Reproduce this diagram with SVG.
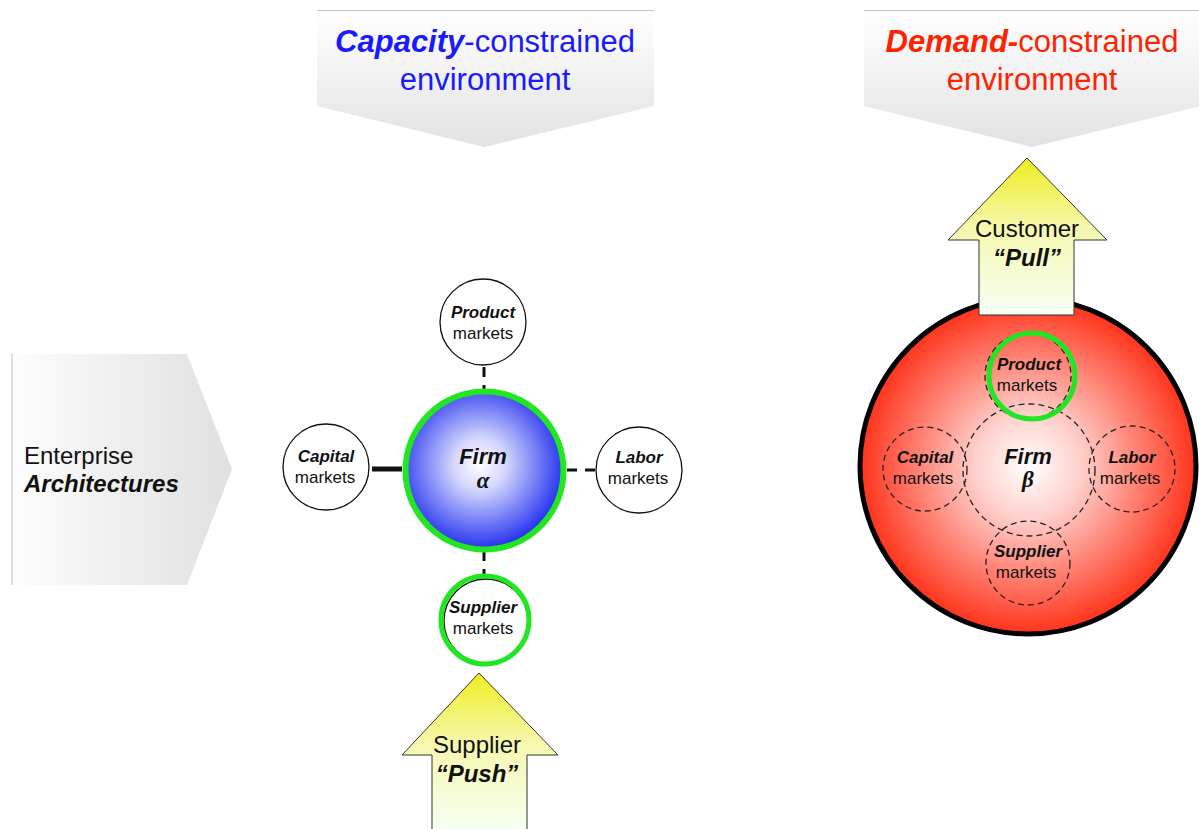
<svg xmlns="http://www.w3.org/2000/svg" width="1199" height="829" viewBox="0 0 1199 829">
  <defs>
    <linearGradient id="bannerFill" x1="0" y1="0" x2="0" y2="1">
      <stop offset="0" stop-color="#ffffff"/>
      <stop offset="1" stop-color="#e2e2e2"/>
    </linearGradient>
    <linearGradient id="sideFill" x1="0" y1="0" x2="1" y2="0">
      <stop offset="0" stop-color="#fdfdfd"/>
      <stop offset="1" stop-color="#e0e0e0"/>
    </linearGradient>
    <linearGradient id="arrowFill" x1="0" y1="0" x2="0" y2="1">
      <stop offset="0" stop-color="#eeee1e"/>
      <stop offset="0.45" stop-color="#f6f8b0"/>
      <stop offset="1" stop-color="#f4fff4"/>
    </linearGradient>
    <radialGradient id="blueFill" cx="0.47" cy="0.46" r="0.55">
      <stop offset="0" stop-color="#ffffff"/>
      <stop offset="0.3" stop-color="#d4d7fc"/>
      <stop offset="1" stop-color="#1f2cf0"/>
    </radialGradient>
    <radialGradient id="redFill" cx="0.5" cy="0.5" r="0.52">
      <stop offset="0" stop-color="#ffffff"/>
      <stop offset="0.3" stop-color="#ffd0cc"/>
      <stop offset="1" stop-color="#ff2a10"/>
    </radialGradient>
  </defs>
  <style>
    text { font-family: "Liberation Sans", Arial, sans-serif; fill: #111; text-anchor: middle; }
    .bi { font-weight: bold; font-style: italic; }
    .mk { font-size: 17px; }
    .banner { font-size: 31px; }
    .blue { fill: #1a1aff; }
    .red { fill: #ff2200; }
    .arrowtxt { font-size: 24px; }
    .greek { font-family: "Liberation Serif", "Times New Roman", serif; font-style: italic; font-weight: bold; font-size: 23px; }
    .market { fill: #ffffff; stroke: #111; stroke-width: 1.3; }
    .dashed { fill: none; stroke: #222; stroke-width: 1.3; stroke-dasharray: 6 4; }
    .ring { fill: none; stroke: #22e622; stroke-width: 5; }
    .link { stroke: #111; stroke-width: 3; stroke-dasharray: 10 8; fill: none; }
    .arrow { fill: url(#arrowFill); stroke: #333; stroke-width: 1; }
  </style>

  <rect width="1199" height="829" fill="#ffffff"/>

  <!-- header banners -->
  <g id="capacity-banner">
    <path d="M317,10 H654 V106 L484,147 L317,106 Z" fill="url(#bannerFill)"/>
    <line x1="317" y1="10.5" x2="654" y2="10.5" stroke="#c4c4c4" stroke-width="1"/>
    <text class="banner blue" x="485" y="52"><tspan class="bi">Capacity</tspan>-constrained</text>
    <text class="banner blue" x="485" y="90">environment</text>
  </g>

  <g id="demand-banner">
    <path d="M864,10 H1201 V106 L1032,147 L864,106 Z" fill="url(#bannerFill)"/>
    <line x1="864" y1="10.5" x2="1199" y2="10.5" stroke="#c4c4c4" stroke-width="1"/>
    <text class="banner red" x="1032" y="52"><tspan class="bi">Demand-</tspan>constrained</text>
    <text class="banner red" x="1032" y="90">environment</text>
  </g>

  <g id="enterprise-architectures">
    <path d="M12,354 H187 L232,469 L187,585 H12 Z" fill="url(#sideFill)"/>
    <line x1="12" y1="354" x2="12" y2="585" stroke="#bdbdbd" stroke-width="1"/>
    <text x="24" y="464" style="text-anchor:start;font-size:24px">Enterprise</text>
    <text class="bi" x="24" y="492" style="text-anchor:start;font-size:24px">Architectures</text>
  </g>

  <!-- links between firm alpha and its markets -->
  <g id="connectors">
    <line class="link" x1="484" y1="367" x2="484" y2="391"/>
    <line x1="372" y1="469" x2="402" y2="469" stroke="#111" stroke-width="5"/>
    <line class="link" x1="567" y1="470" x2="596" y2="470"/>
    <line class="link" x1="484" y1="551" x2="484" y2="576"/>
  </g>

  <!-- firm alpha cluster -->
  <g id="product-markets-alpha">
    <circle class="market" cx="483" cy="322" r="43"/>
    <text class="mk bi" x="483" y="318">Product</text>
    <text class="mk" x="483" y="339">markets</text>
  </g>
  <g id="capital-markets-alpha">
    <circle class="market" cx="326" cy="467" r="43"/>
    <text class="mk bi" x="326" y="462">Capital</text>
    <text class="mk" x="325" y="483">markets</text>
  </g>
  <g id="labor-markets-alpha">
    <circle class="market" cx="639" cy="470" r="43"/>
    <text class="mk bi" x="639" y="463">Labor</text>
    <text class="mk" x="638" y="484">markets</text>
  </g>
  <g id="supplier-markets-alpha">
    <circle class="market" cx="486" cy="621" r="42"/>
    <circle class="ring" cx="485" cy="620" r="44"/>
    <text class="mk bi" x="483" y="613">Supplier</text>
    <text class="mk" x="483" y="634">markets</text>
  </g>
  <g id="firm-alpha">
    <circle cx="484.5" cy="470.5" r="79" fill="url(#blueFill)" stroke="#22e622" stroke-width="6"/>
    <text class="bi" x="483" y="464" style="font-size:22px">Firm</text>
    <text class="greek" x="483" y="488">α</text>
  </g>

  <g id="supplier-push">
    <path class="arrow" d="M479,673 L558,755 H527 V832 H432 V755 H402 Z"/>
    <text class="arrowtxt" x="477" y="753">Supplier</text>
    <text class="arrowtxt bi" x="477" y="782">“Push”</text>
  </g>

  <!-- firm beta cluster -->
  <g id="firm-beta">
    <circle cx="1028" cy="466" r="168" fill="url(#redFill)" stroke="#000" stroke-width="5"/>
    <circle class="dashed" cx="1029" cy="470" r="66"/>
    <text class="bi" x="1028" y="464" style="font-size:22px">Firm</text>
    <text class="greek" x="1028" y="487">β</text>
  </g>
  <g id="product-markets-beta">
    <circle class="dashed" cx="1028" cy="376" r="43"/>
    <circle class="ring" cx="1032" cy="376" r="43"/>
    <text class="mk bi" x="1029" y="370">Product</text>
    <text class="mk" x="1027" y="391">markets</text>
  </g>
  <g id="capital-markets-beta">
    <circle class="dashed" cx="925" cy="469" r="42"/>
    <text class="mk bi" x="925" y="463">Capital</text>
    <text class="mk" x="923" y="484">markets</text>
  </g>
  <g id="labor-markets-beta">
    <circle class="dashed" cx="1132" cy="469" r="43"/>
    <text class="mk bi" x="1132" y="463">Labor</text>
    <text class="mk" x="1130" y="484">markets</text>
  </g>
  <g id="supplier-markets-beta">
    <circle class="dashed" cx="1028" cy="563" r="42"/>
    <text class="mk bi" x="1028" y="557">Supplier</text>
    <text class="mk" x="1026" y="578">markets</text>
  </g>

  <g id="customer-pull">
    <path class="arrow" d="M1027,158 L1107,240 H1074 V315 H979 V240 H948 Z"/>
    <text class="arrowtxt" x="1027" y="237">Customer</text>
    <text class="arrowtxt bi" x="1027" y="266">“Pull”</text>
  </g>
</svg>
